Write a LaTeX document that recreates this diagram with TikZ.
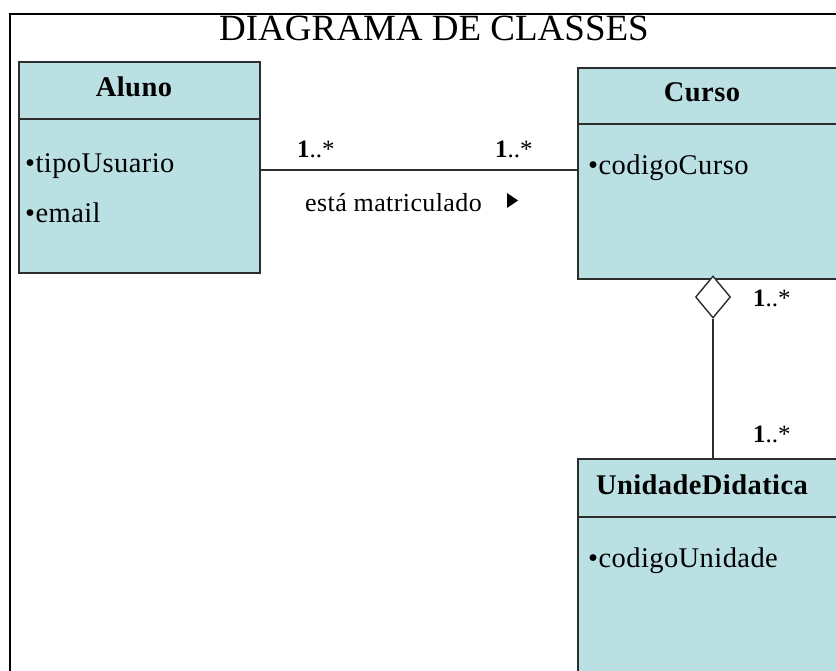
\documentclass[tikz,border=0pt]{standalone}
\usepackage{fontspec}
\setmainfont{Liberation Serif}
\newfontfamily\wideserif[LetterSpace=1.5]{Liberation Serif}
\usetikzlibrary{shapes.geometric}
\definecolor{classfill}{RGB}{186,224,227}
\definecolor{edgegray}{RGB}{45,45,45}

\begin{document}
\begin{tikzpicture}[x=1pt,y=-1pt,
  classbox/.style={draw=edgegray, line width=1.6pt, fill=classfill,
    anchor=north west, inner sep=0pt},
  headtext/.style={font=\wideserif\fontsize{28.5}{30}\selectfont\bfseries,
    anchor=base, inner sep=0pt},
  attr/.style={font=\wideserif\fontsize{28.5}{30}\selectfont,
    anchor=base west, inner sep=0pt},
  mult/.style={font=\fontsize{25}{27}\selectfont, anchor=base west, inner sep=0pt},
  link/.style={draw=edgegray, line width=1.5pt}]

\useasboundingbox (0,0) rectangle (836,671);
\clip (0,0) rectangle (836,671);
\fill[white] (0,0) rectangle (836,671);

% outer frame
\draw[black, line width=2.8pt] (10,14) rectangle (900,720);

% title
\node[font=\fontsize{37}{39}\selectfont, anchor=base, inner sep=0pt]
  (title) at (434,41) {DIAGRAMA DE CLASSES};

% class Aluno
\node[classbox, minimum width=241, minimum height=57] (alunoH) at (18,61) {};
\node[classbox, minimum width=241, minimum height=154] (alunoB) at (18,118) {};
\node[headtext] (alunoT) at (134,97) {Aluno};
\node[attr] (alunoA1) at (25,173) {•tipoUsuario};
\node[attr] (alunoA2) at (25,223) {•email};

% class Curso
\node[classbox, minimum width=290, minimum height=56] (cursoH) at (577,67) {};
\node[classbox, minimum width=290, minimum height=155] (cursoB) at (577,123) {};
\node[headtext] (cursoT) at (702,102) {Curso};
\node[attr] (cursoA1) at (588,175) {•codigoCurso};

% class UnidadeDidatica
\node[classbox, minimum width=290, minimum height=58] (unidH) at (577,458) {};
\node[classbox, minimum width=290, minimum height=180] (unidB) at (577,516) {};
\node[headtext] (unidT) at (702,494) {UnidadeDidatica};
\node[attr] (unidA1) at (588,567) {•codigoUnidade};

% association Aluno -- Curso
\coordinate (assocY) at (0,170);
\draw[link] (alunoB.east |- assocY) -- (cursoB.west |- assocY);
\node[mult] (m1) at (297,158) {\textbf{1}..*};
\node[mult] (m2) at (495,158) {\textbf{1}..*};
\node[attr, font=\wideserif\fontsize{26}{28}\selectfont] (assocName) at (305,212) {está matriculado};
\fill[black] (507,193) -- (518,200.5) -- (507,208) -- cycle;

% aggregation Curso <>-- UnidadeDidatica
\node[diamond, draw=edgegray, line width=1.4pt, fill=white, inner sep=0pt,
  minimum width=35, minimum height=42] (agg) at (713,297) {};
\draw[link] (agg.south) -- (agg.south |- unidH.north);
\node[mult] (m3) at (753,306) {\textbf{1}..*};
\node[mult] (m4) at (753,442) {\textbf{1}..*};
\end{tikzpicture}
\end{document}
